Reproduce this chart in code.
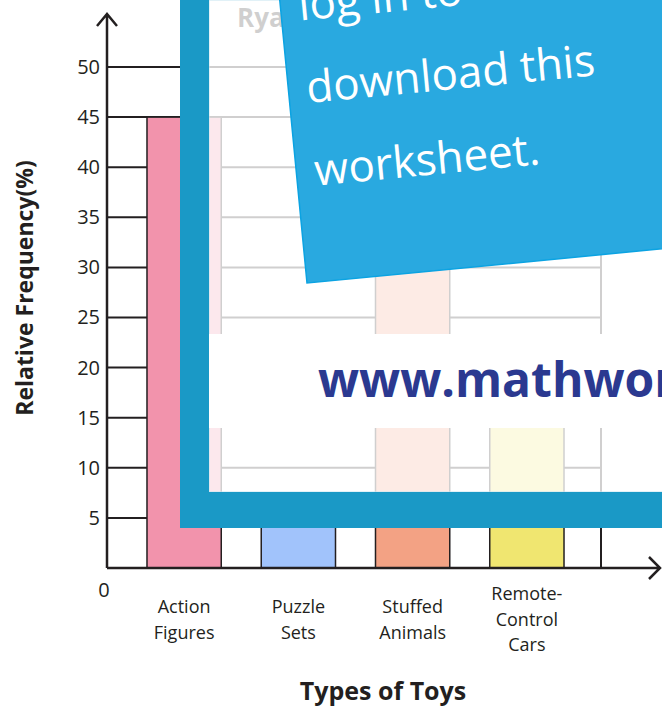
<!DOCTYPE html>
<html>
<head>
<meta charset="utf-8">
<script src="https://cdn.jsdelivr.net/npm/d3@7"></script>
<style>
  body { margin: 0; background: #fff; }
  svg { display: block; }
  text { font-family: "Open Sans", "Noto Sans", sans-serif; }
</style>
</head>
<body>
<div id="container"></div>
<script>
// chart values
const toys = ['Action Figures', 'Puzzle Sets', 'Stuffed Animals', 'Remote-Control Cars']
const toyLines = [['Action', 'Figures'], ['Puzzle', 'Sets'], ['Stuffed', 'Animals'], ['Remote-', 'Control', 'Cars']]
const relFreq = [45, 5, 35, 15]
const barColors = ['#f293ac', '#a1c3fb', '#f3a284', '#f0e670']
const yTicks = [5, 10, 15, 20, 25, 30, 35, 40, 45, 50]

function drawChart() {
    const config = {
        width: 662,
        height: 707,
        axisX: 107,
        axisY: 568,
        top: 67,
        gridRight: 601,
        ink: '#231f20',
    }

    const svg = d3
        .select('#container')
        .append('svg')
        .attr('width', config.width)
        .attr('height', config.height)
        .attr('viewBox', `0 0 ${config.width} ${config.height}`)

    const scaleX = d3
        .scaleBand()
        .domain(toys)
        .range([config.axisX, 604])
        .paddingInner(0.35)
        .paddingOuter(0.35)

    const scaleY = d3
        .scaleLinear()
        .domain([0, 50])
        .range([config.axisY, config.top])

    const root = svg.append('g')

    // title (mostly hidden under the banner)
    root.append('text')
        .attr('x', 237)
        .attr('y', 27)
        .attr('font-size', '26px')
        .attr('font-weight', 'bold')
        .attr('fill', config.ink)
        .text("Ryan's Toys")

    // horizontal grid lines
    root.append('g')
        .selectAll('line')
        .data(yTicks)
        .enter()
        .append('line')
        .attr('x1', config.axisX)
        .attr('x2', config.gridRight)
        .attr('y1', d => scaleY(d))
        .attr('y2', d => scaleY(d))
        .attr('stroke', config.ink)
        .attr('stroke-width', 2)

    root.append('line')
        .attr('x1', config.gridRight)
        .attr('x2', config.gridRight)
        .attr('y1', scaleY(50))
        .attr('y2', scaleY(0))
        .attr('stroke', config.ink)
        .attr('stroke-width', 2)

    // bars
    root.append('g')
        .selectAll('rect')
        .data(toys)
        .enter()
        .append('rect')
        .attr('x', d => scaleX(d))
        .attr('y', (d, i) => scaleY(relFreq[i]))
        .attr('width', scaleX.bandwidth())
        .attr('height', (d, i) => scaleY(0) - scaleY(relFreq[i]))
        .attr('fill', (d, i) => barColors[i])
        .attr('stroke', config.ink)
        .attr('stroke-width', 1.5)

    // y axis labels
    const yAxisCreator = d3
        .axisLeft(scaleY)
        .tickValues(yTicks)
        .tickSize(0)
        .tickPadding(7)

    const yAxisGroup = root.append('g')
        .attr('transform', `translate(${config.axisX}, 0)`)
        .call(yAxisCreator)
    yAxisGroup.select('.domain').remove()
    yAxisGroup.selectAll('text')
        .attr('font-size', '20px')
        .attr('font-family', '"Open Sans", sans-serif')
        .attr('fill', config.ink)

    root.append('text')
        .attr('x', 104)
        .attr('y', 597)
        .attr('font-size', '20px')
        .attr('text-anchor', 'middle')
        .attr('fill', config.ink)
        .text('0')

    // axes with arrows
    root.append('path')
        .attr('d', `M${config.axisX},${config.axisY} V14 M97,26 L${config.axisX},14 L117,26`)
        .attr('fill', 'none')
        .attr('stroke', config.ink)
        .attr('stroke-width', 2.5)
    root.append('path')
        .attr('d', `M${config.axisX},${config.axisY} H660 M649,557 L660,${config.axisY} L649,579`)
        .attr('fill', 'none')
        .attr('stroke', config.ink)
        .attr('stroke-width', 2.5)

    // category labels
    const catLabels = root.append('g')
        .selectAll('text')
        .data(toys)
        .enter()
        .append('text')
        .attr('text-anchor', 'middle')
        .attr('font-size', '18px')
        .attr('fill', config.ink)
        .attr('transform', (d, i) => {
            const n = toyLines[i].length
            return `translate(${scaleX(d) + scaleX.bandwidth() / 2}, ${626 - (n - 1) * 13})`
        })
    catLabels.selectAll('tspan')
        .data((d, i) => toyLines[i])
        .enter()
        .append('tspan')
        .attr('x', 0)
        .attr('y', (d, j) => j * 25.5)
        .text(d => d)

    const xLabel = root.append('text')
        .attr('x', 383)
        .attr('y', 700)
        .attr('font-size', '25px')
        .attr('font-weight', 'bold')
        .attr('text-anchor', 'middle')
        .attr('fill', config.ink)
        .text('Types of Toys')

    const yLabel = root.append('text')
        .attr('x', -288)
        .attr('y', 33)
        .attr('font-size', '23px')
        .attr('font-weight', 'bold')
        .attr('transform', 'rotate(-90)')
        .attr('text-anchor', 'middle')
        .attr('fill', config.ink)
        .text('Relative Frequency(%)')

    // watermark overlay
    const overlay = svg.append('g')
    overlay.append('rect')
        .attr('x', 209)
        .attr('y', 0)
        .attr('width', 460)
        .attr('height', 492)
        .attr('fill', '#fff')
        .attr('fill-opacity', 0.79)
        .attr('stroke', '#c4e4f0')
        .attr('stroke-width', 1)

    overlay.append('rect')
        .attr('x', 209)
        .attr('y', 334)
        .attr('width', 460)
        .attr('height', 94)
        .attr('fill', '#fff')

    overlay.append('text')
        .attr('x', 318)
        .attr('y', 397)
        .attr('font-size', '48px')
        .attr('font-weight', 'bold')
        .attr('fill', '#2b3990')
        .text('www.mathworksheets4kids.com')

    overlay.append('rect')
        .attr('x', 180)
        .attr('y', 0)
        .attr('width', 29)
        .attr('height', 528)
        .attr('fill', '#1a99c6')
    overlay.append('rect')
        .attr('x', 180)
        .attr('y', 492)
        .attr('width', 490)
        .attr('height', 36)
        .attr('fill', '#1a99c6')

    const note = overlay.append('g')
        .attr('transform', 'translate(307, 283) rotate(-5.5)')
    note.append('rect')
        .attr('x', 0)
        .attr('y', -420)
        .attr('width', 520)
        .attr('height', 420)
        .attr('fill', '#29a9e0')
        .attr('stroke', '#0ba3e2')
        .attr('stroke-width', 1.5)
    note.selectAll('text')
        .data(['log in to', 'download this', 'worksheet.'])
        .enter()
        .append('text')
        .attr('x', 18)
        .attr('y', (d, i) => -262 + i * 83)
        .attr('font-size', '44px')
        .attr('fill', '#fff')
        .text(d => d)
}

drawChart()
</script>
</body>
</html>
